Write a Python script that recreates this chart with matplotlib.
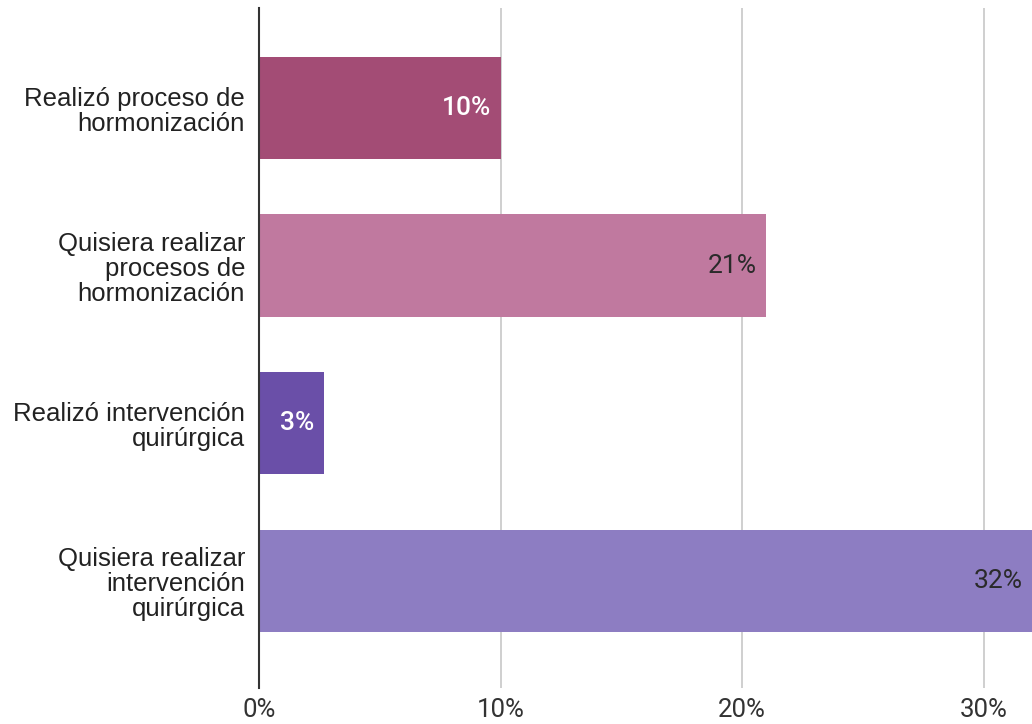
import matplotlib
matplotlib.use('Agg')
import matplotlib.pyplot as plt

# datos
categorias = ['Realizó proceso de\nhormonización',
              'Quisiera realizar\nprocesos de\nhormonización',
              'Realizó intervención\nquirúrgica',
              'Quisiera realizar\nintervención\nquirúrgica']
valores = [10, 21, 2.7, 32]
etiquetas = ['10%', '21%', '3%', '32%']
colores = ['#A34C75', '#C0799F', '#6A4FA8', '#8D7DC2']
color_texto = ['white', '#2a2a2a', 'white', '#2a2a2a']
ticks = [0, 10, 20, 30]
tick_labels = ['0%', '10%', '20%', '30%']

fig = plt.figure(figsize=(10.32, 7.24), dpi=100)
ax = fig.add_axes([259/1032, 36/724, 1 - 259/1032, 680/724])

ys = list(range(len(categorias)))
alto = 0.65
for y, v, c in zip(ys, valores, colores):
    ax.barh(y, v, height=alto, color=c, zorder=3)

for y, v, lab, tc in zip(ys, valores, etiquetas, color_texto):
    ax.annotate(lab, xy=(v, y), xytext=(-7, 0), textcoords='offset points',
                ha='right', va='center', fontsize=19, color=tc,
                family='Roboto', fontweight='medium' if tc == 'white' else 'normal',
                zorder=4)

ax.set_xlim(0, 32)
ax.set_ylim(3.68, -0.635)
ax.set_yticks(ys)
ax.set_yticklabels(categorias, fontsize=18.5, family='Liberation Sans',
                   color='#222222', linespacing=1.06)
ax.set_xticks(ticks)
ax.set_xticklabels(tick_labels, fontsize=18.5, family='Roboto', color='#333333')
ax.tick_params(axis='both', length=0)
ax.tick_params(axis='y', pad=10)
ax.tick_params(axis='x', pad=7)

ax.grid(axis='x', color='#cccccc', lw=1.3, zorder=0)
for s in ['top', 'right', 'bottom']:
    ax.spines[s].set_visible(False)
ax.spines['left'].set_color('#333333')
ax.spines['left'].set_linewidth(1.5)
ax.spines['left'].set_zorder(5)

plt.savefig('out.png', dpi=100)
